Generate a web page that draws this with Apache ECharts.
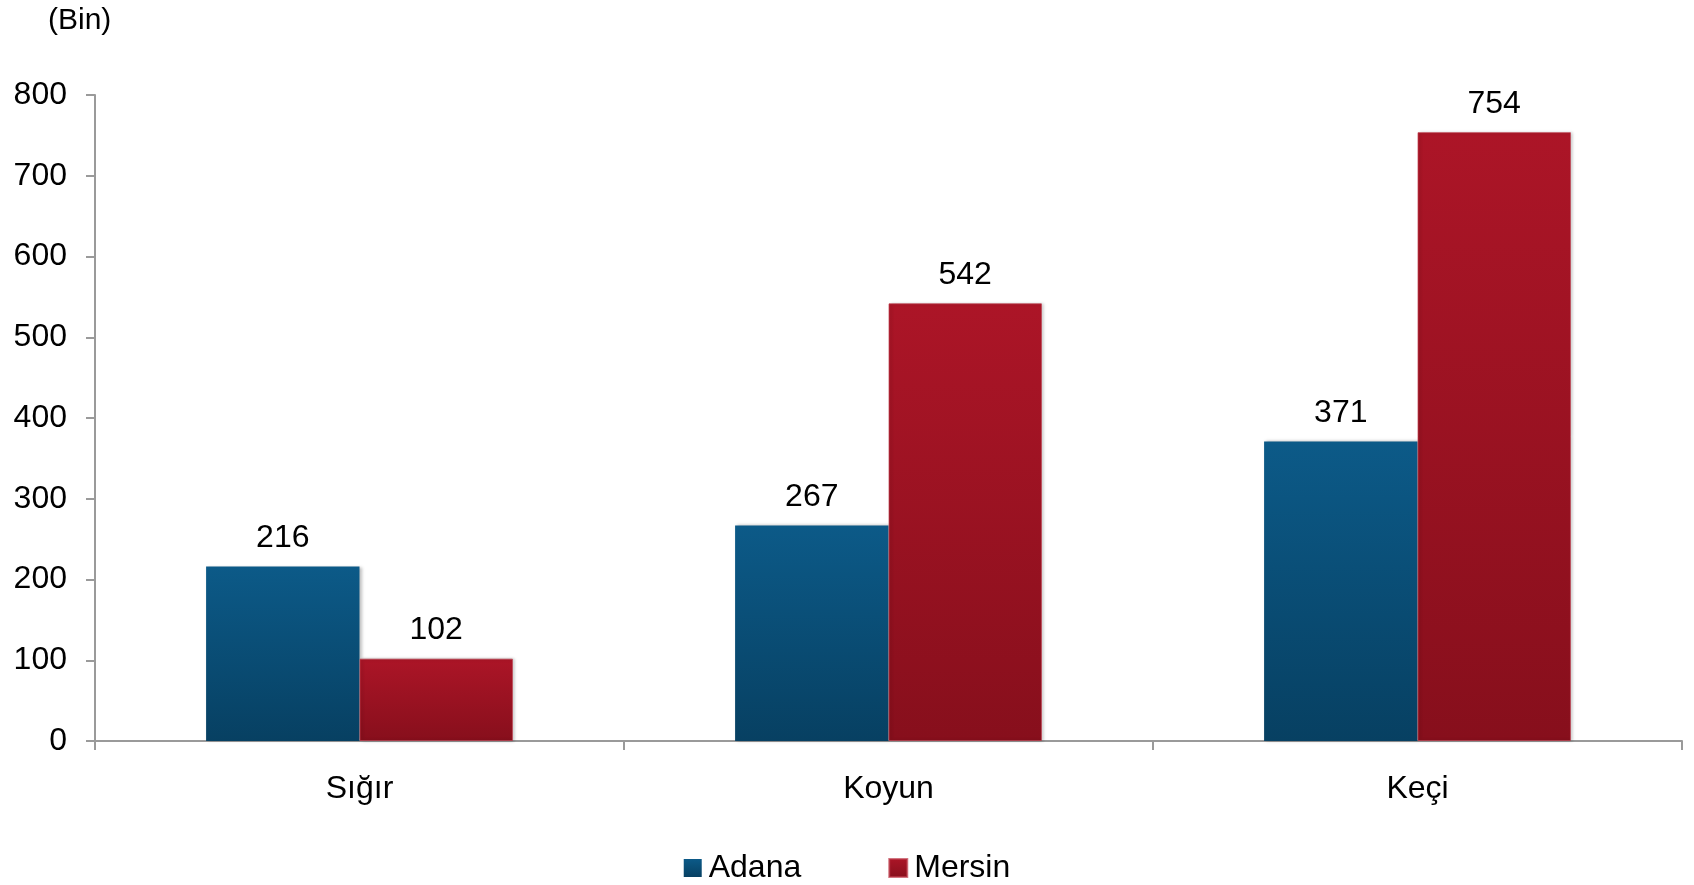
<!DOCTYPE html>
<html>
<head>
<meta charset="utf-8">
<script src="https://cdn.jsdelivr.net/npm/echarts@6/dist/echarts.min.js"></script>
<style>
  html, body { margin: 0; padding: 0; background: #fff; }
  #chart { width: 1694px; height: 885px; }
</style>
</head>
<body>
<div id="chart"></div>
<script>
const categories = ['Sığır', 'Koyun', 'Keçi'];
const adana = [216, 267, 371];
const mersin = [102, 542, 754];
const yTicks = [0, 100, 200, 300, 400, 500, 600, 700, 800];

const FONT = '"Liberation Sans", Arial, sans-serif';

const grad = (top, bottom) => new echarts.graphic.LinearGradient(0, 0, 0, 1, [
  { offset: 0, color: top },
  { offset: 1, color: bottom }
]);

const chart = echarts.init(document.getElementById('chart'));

const labelStyle = {
  show: true,
  position: 'top',
  distance: 12,
  color: '#000',
  fontSize: 32,
  fontFamily: FONT
};

chart.setOption({
  animation: false,
  textStyle: { fontFamily: FONT },
  title: {
    text: '(Bin)',
    left: 43,
    top: 1,
    textStyle: { fontSize: 30, fontWeight: 'normal', color: '#000', fontFamily: FONT }
  },
  legend: {
    bottom: -4,
    left: 'center',
    itemWidth: 18,
    itemHeight: 18,
    itemGap: 87,
    icon: 'rect',
    textStyle: { fontSize: 32, color: '#000', fontFamily: FONT, padding: [0, 0, 0, 2] },
    data: ['Adana', 'Mersin']
  },
  grid: { left: 95, right: 12, top: 95, bottom: 144, containLabel: false },
  xAxis: {
    type: 'category',
    data: categories,
    axisLine: { lineStyle: { color: '#9a9a9a', width: 2 } },
    axisTick: { show: true, length: 9, lineStyle: { color: '#9a9a9a', width: 2 } },
    axisLabel: { fontSize: 32, color: '#000', margin: 32, fontFamily: FONT }
  },
  yAxis: {
    type: 'value',
    min: yTicks[0],
    max: yTicks[yTicks.length - 1],
    interval: 100,
    splitLine: { show: false },
    axisLine: { show: true, lineStyle: { color: '#9a9a9a', width: 2 } },
    axisTick: { show: true, length: 9, lineStyle: { color: '#9a9a9a', width: 2 } },
    axisLabel: { fontSize: 32, color: '#000', margin: 28, fontFamily: FONT }
  },
  series: [
    {
      name: 'Adana',
      type: 'bar',
      data: adana,
      barGap: '0%',
      barCategoryGap: '42%',
      itemStyle: {
        color: grad('#0c5a88', '#074062'),
        shadowColor: 'rgba(0,0,0,0.25)',
        shadowBlur: 3,
        shadowOffsetX: 2
      },
      label: labelStyle
    },
    {
      name: 'Mersin',
      type: 'bar',
      data: mersin,
      itemStyle: {
        color: grad('#ac1527', '#870f1c'),
        borderColor: 'rgba(190,60,75,0.7)',
        borderWidth: 1,
        shadowColor: 'rgba(0,0,0,0.25)',
        shadowBlur: 3,
        shadowOffsetX: 2
      },
      label: labelStyle
    }
  ]
});
</script>
</body>
</html>
